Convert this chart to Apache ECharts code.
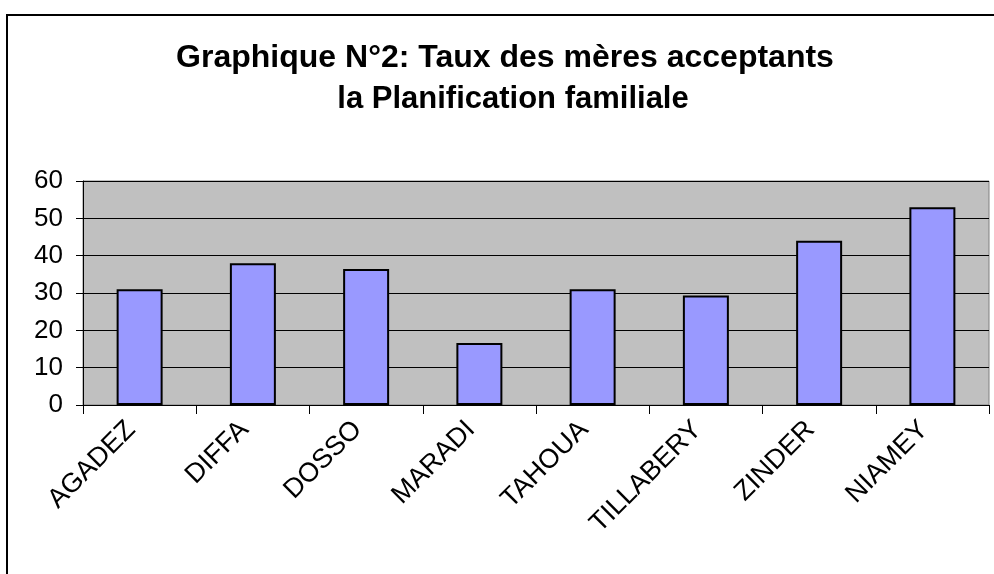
<!DOCTYPE html>
<html>
<head>
<meta charset="utf-8">
<script src="https://cdn.jsdelivr.net/npm/echarts@6/dist/echarts.min.js"></script>
<style>
  html, body { margin: 0; padding: 0; background: #fff; }
  #chart { width: 994px; height: 574px; }
</style>
</head>
<body>
<div id="chart"></div>
<script>
  // données
  var regions = ['AGADEZ', 'DIFFA', 'DOSSO', 'MARADI', 'TAHOUA', 'TILLABERY', 'ZINDER', 'NIAMEY'];
  var taux = [31, 38, 36.4, 16.6, 31, 29.3, 44, 53];
  var yTicks = [0, 10, 20, 30, 40, 50, 60];
  var titre = ['Graphique N°2: Taux des mères acceptants', 'la Planification familiale'];

  var font = "'Liberation Sans', Arial, sans-serif";
  var myChart = echarts.init(document.getElementById('chart'));

  function titleStyle(size) {
    return {
      fontFamily: font,
      fontWeight: 'bold',
      fontSize: size,
      color: '#000'
    };
  }

  var option = {
    animation: false,
    title: [
      { text: titre[0], left: 505, textAlign: 'center', top: 42, padding: 0, textStyle: titleStyle(32) },
      { text: titre[1], left: 513, textAlign: 'center', top: 84, padding: 0, textStyle: titleStyle(31) }
    ],
    graphic: [
      {
        type: 'rect',
        shape: { x: 7, y: 15, width: 1100, height: 700 },
        style: { fill: 'none', stroke: '#000', lineWidth: 2 },
        silent: true
      }
    ],
    grid: {
      left: 83,
      right: 5,
      top: 181,
      bottom: 169,
      show: true,
      backgroundColor: '#c0c0c0',
      borderColor: '#808080',
      borderWidth: 1
    },
    xAxis: {
      type: 'category',
      data: regions,
      axisLine: { lineStyle: { color: '#000', width: 1 } },
      axisTick: { show: true, length: 9, lineStyle: { color: '#000' } },
      axisLabel: {
        interval: 0,
        rotate: 45,
        margin: 12,
        padding: [0, 12, 0, 0],
        fontFamily: font,
        fontSize: 27,
        color: '#000'
      }
    },
    yAxis: {
      type: 'value',
      min: 0,
      max: 60,
      interval: 10,
      axisLine: { show: true, lineStyle: { color: '#000', width: 1 } },
      axisTick: { show: true, length: 7, lineStyle: { color: '#000' } },
      splitLine: { show: true, lineStyle: { color: '#000', width: 1 } },
      axisLabel: {
        margin: 20,
        fontFamily: font,
        fontSize: 26,
        color: '#000',
        formatter: function (v) {
          return yTicks.indexOf(v) >= 0 ? String(v) : '';
        }
      }
    },
    series: [
      {
        name: 'Taux',
        type: 'bar',
        data: taux,
        barWidth: 46,
        itemStyle: {
          color: '#9999ff',
          borderColor: '#000',
          borderWidth: 2
        }
      }
    ]
  };

  myChart.setOption(option);
</script>
</body>
</html>
